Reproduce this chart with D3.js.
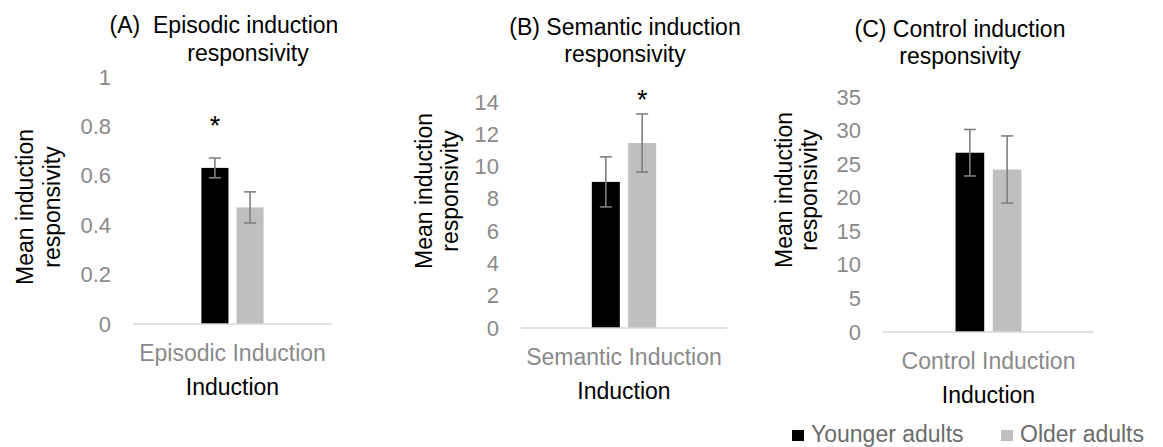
<!DOCTYPE html>
<html>
<head>
<meta charset="utf-8">
<script src="https://cdn.jsdelivr.net/npm/d3@7"></script>
<style>
  body { margin: 0; background: #fff; }
  svg { display: block; font-family: "Liberation Sans", Arial, Helvetica, sans-serif; }
</style>
</head>
<body>
<div id="chart"></div>
<script>
// datos
const groups = ["Younger adults", "Older adults"];
const categories = ["Episodic Induction", "Semantic Induction", "Control Induction"];
const titleLine1 = ["(A)  Episodic induction", "(B) Semantic induction", "(C) Control induction"];
const titleLine2 = ["responsivity", "responsivity", "responsivity"];
const youngerMeans = [0.632, 9.05, 26.7];
const olderMeans = [0.472, 11.46, 24.2];
const youngerErr = [0.04, 1.55, 3.46];
const olderErr = [0.063, 1.8, 5.0];
const yMax = [1, 14, 35];
const yStep = [0.2, 2, 5];
// asterisco: grupo marcado y altura (en unidades del eje)
const starGroup = ["Younger adults", "Older adults", null];
const starValue = [0.765, 13.55, null];

const colors = { "Younger adults": "#000000", "Older adults": "#bfbfbf" };

// posiciones de cada panel en píxeles
const panels = [
  { left: 133, right: 332, top: 77, bottom: 324, tx1: 224, tx2: 248, ty1: 33, ty2: 61, yx1: 33, yx2: 60, yCenter: 207 },
  { left: 521, right: 727, top: 102, bottom: 328, tx1: 625, tx2: 625, ty1: 35, ty2: 62, yx1: 432, yx2: 458, yCenter: 191 },
  { left: 883, right: 1094, top: 97, bottom: 332, tx1: 960, tx2: 960, ty1: 37, ty2: 64, yx1: 792, yx2: 817, yCenter: 190 }
];

const svg = d3.select("#chart").append("svg")
  .attr("width", 1163)
  .attr("height", 447);

panels.forEach((p, i) => {
  const g = svg.append("g");
  const rows = [
    { group: groups[0], value: youngerMeans[i], err: youngerErr[i] },
    { group: groups[1], value: olderMeans[i], err: olderErr[i] }
  ];

  const y = d3.scaleLinear().domain([0, yMax[i]]).range([p.bottom, p.top]);
  const x0 = d3.scaleBand().domain([categories[i]]).range([p.left, p.right]).paddingOuter(1.1).paddingInner(0);
  const x1 = d3.scaleBand().domain(groups).range([0, x0.bandwidth()]).paddingInner(0.23).paddingOuter(0);

  // eje Y sin línea, sólo etiquetas grises
  const ticks = d3.range(0, yMax[i] + yStep[i] / 2, yStep[i]);
  const yAxis = g.append("g")
    .attr("transform", `translate(${p.left - 22},0)`)
    .call(d3.axisLeft(y).tickValues(ticks).tickSize(0).tickPadding(0).tickFormat(d3.format("~g")));
  yAxis.select(".domain").remove();
  yAxis.selectAll("text")
    .attr("font-size", 22)
    .attr("fill", "#8a8a8a")
    .attr("font-family", "Liberation Sans, Arial, sans-serif");

  // barras
  g.selectAll("rect.bar").data(rows).enter().append("rect")
    .attr("class", "bar")
    .attr("x", d => x0(categories[i]) + x1(d.group))
    .attr("y", d => y(d.value))
    .attr("width", x1.bandwidth())
    .attr("height", d => y(0) - y(d.value))
    .attr("fill", d => colors[d.group]);

  // línea base
  g.append("line")
    .attr("x1", p.left).attr("x2", p.right)
    .attr("y1", y(0)).attr("y2", y(0))
    .attr("stroke", "#d9d9d9").attr("stroke-width", 1.5);

  // barras de error
  const cap = 6;
  const eb = g.selectAll("g.err").data(rows).enter().append("g")
    .attr("class", "err")
    .attr("stroke", "#7f7f7f").attr("stroke-width", 1.6);
  const cx = d => x0(categories[i]) + x1(d.group) + x1.bandwidth() / 2;
  eb.append("line").attr("x1", cx).attr("x2", cx)
    .attr("y1", d => y(d.value + d.err)).attr("y2", d => y(d.value - d.err));
  eb.append("line").attr("x1", d => cx(d) - cap).attr("x2", d => cx(d) + cap)
    .attr("y1", d => y(d.value + d.err)).attr("y2", d => y(d.value + d.err));
  eb.append("line").attr("x1", d => cx(d) - cap).attr("x2", d => cx(d) + cap)
    .attr("y1", d => y(d.value - d.err)).attr("y2", d => y(d.value - d.err));

  // asterisco de significación
  if (starGroup[i]) {
    g.append("text")
      .attr("x", x0(categories[i]) + x1(starGroup[i]) + x1.bandwidth() / 2)
      .attr("y", y(starValue[i]))
      .attr("text-anchor", "middle")
      .attr("font-size", 27)
      .attr("fill", "#000")
      .text("*");
  }

  // etiqueta de categoría y título del eje X
  const midX = x0(categories[i]) + x0.bandwidth() / 2;
  g.append("text")
    .attr("x", midX).attr("y", y(0) + 37)
    .attr("text-anchor", "middle")
    .attr("font-size", 23).attr("fill", "#8a8a8a")
    .text(categories[i]);
  g.append("text")
    .attr("x", midX).attr("y", y(0) + 71)
    .attr("text-anchor", "middle")
    .attr("font-size", 23).attr("fill", "#000")
    .text("Induction");

  // título del eje Y (dos líneas, rotado)
  g.append("text")
    .attr("transform", `translate(${p.yx1},${p.yCenter}) rotate(-90)`)
    .attr("text-anchor", "middle")
    .attr("font-size", 23).attr("fill", "#000")
    .text("Mean induction");
  g.append("text")
    .attr("transform", `translate(${p.yx2},${p.yCenter}) rotate(-90)`)
    .attr("text-anchor", "middle")
    .attr("font-size", 23).attr("fill", "#000")
    .text("responsivity");

  // título del panel
  g.append("text")
    .attr("x", p.tx1).attr("y", p.ty1)
    .attr("text-anchor", "middle")
    .attr("font-size", 23).attr("fill", "#000")
    .attr("xml:space", "preserve")
    .style("white-space", "pre")
    .text(titleLine1[i]);
  g.append("text")
    .attr("x", p.tx2).attr("y", p.ty2)
    .attr("text-anchor", "middle")
    .attr("font-size", 23).attr("fill", "#000")
    .text(titleLine2[i]);
});

// leyenda
const legendX = [792, 1001];
const legend = svg.append("g").selectAll("g").data(groups).enter().append("g")
  .attr("transform", (d, k) => `translate(${legendX[k]},0)`);
legend.append("rect")
  .attr("x", 0).attr("y", 430)
  .attr("width", 12).attr("height", 11)
  .attr("fill", d => colors[d]);
legend.append("text")
  .attr("x", 19).attr("y", 442)
  .attr("font-size", 23).attr("fill", "#6b6b6b")
  .text(d => d);
</script>
</body>
</html>
